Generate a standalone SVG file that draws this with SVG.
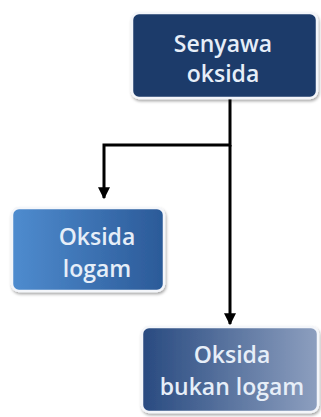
<svg xmlns="http://www.w3.org/2000/svg" width="321" height="417" viewBox="0 0 321 417">
<defs>
<linearGradient id="gLeft" x1="0" y1="0" x2="1" y2="0"><stop offset="0" stop-color="#4f8ccf"/><stop offset="1" stop-color="#2b5a98"/></linearGradient>
<linearGradient id="gBottom" x1="0" y1="0" x2="1" y2="0"><stop offset="0" stop-color="#284a80"/><stop offset="1" stop-color="#8d9fbf"/></linearGradient>
<filter id="sh" x="-10%" y="-10%" width="125%" height="130%"><feDropShadow dx="1" dy="2" stdDeviation="1.5" flood-color="#000" flood-opacity="0.35"/></filter>
<marker id="arr" viewBox="0 0 10 10" refX="9" refY="5" markerWidth="4" markerHeight="4" orient="auto"><path d="M0,0 L10,5 L0,10 z" fill="#000"/></marker>
</defs>
<style>
.box{stroke:#f4f6fa;stroke-width:2.5;filter:url(#sh)}
.t{font-family:"Open Sans","Liberation Sans",sans-serif;font-size:23px;font-weight:600;fill:#e6eef8;text-anchor:middle}
.c{fill:none;stroke:#000;stroke-width:3}
</style>
<rect width="321" height="417" fill="#fff"/>
<g id="connectors">
<path class="c" d="M230,98 V145 H104 V198" marker-end="url(#arr)"/>
<path class="c" d="M230,145 V324" marker-end="url(#arr)"/>
</g>
<g id="senyawa">
<rect class="box" x="132" y="13" width="185" height="85" rx="7" fill="#1b3a6a"/>
<text class="t" x="223" y="52">Senyawa</text>
<text class="t" x="223" y="82">oksida</text>
</g>
<g id="logam">
<rect class="box" x="12" y="208" width="152" height="83" rx="7" fill="url(#gLeft)"/>
<text class="t" x="97" y="245">Oksida</text>
<text class="t" x="97" y="277">logam</text>
</g>
<g id="bukan">
<rect class="box" x="142" y="327" width="176" height="85" rx="7" fill="url(#gBottom)"/>
<text class="t" x="232" y="363">Oksida</text>
<text class="t" x="232" y="395">bukan logam</text>
</g>
</svg>
